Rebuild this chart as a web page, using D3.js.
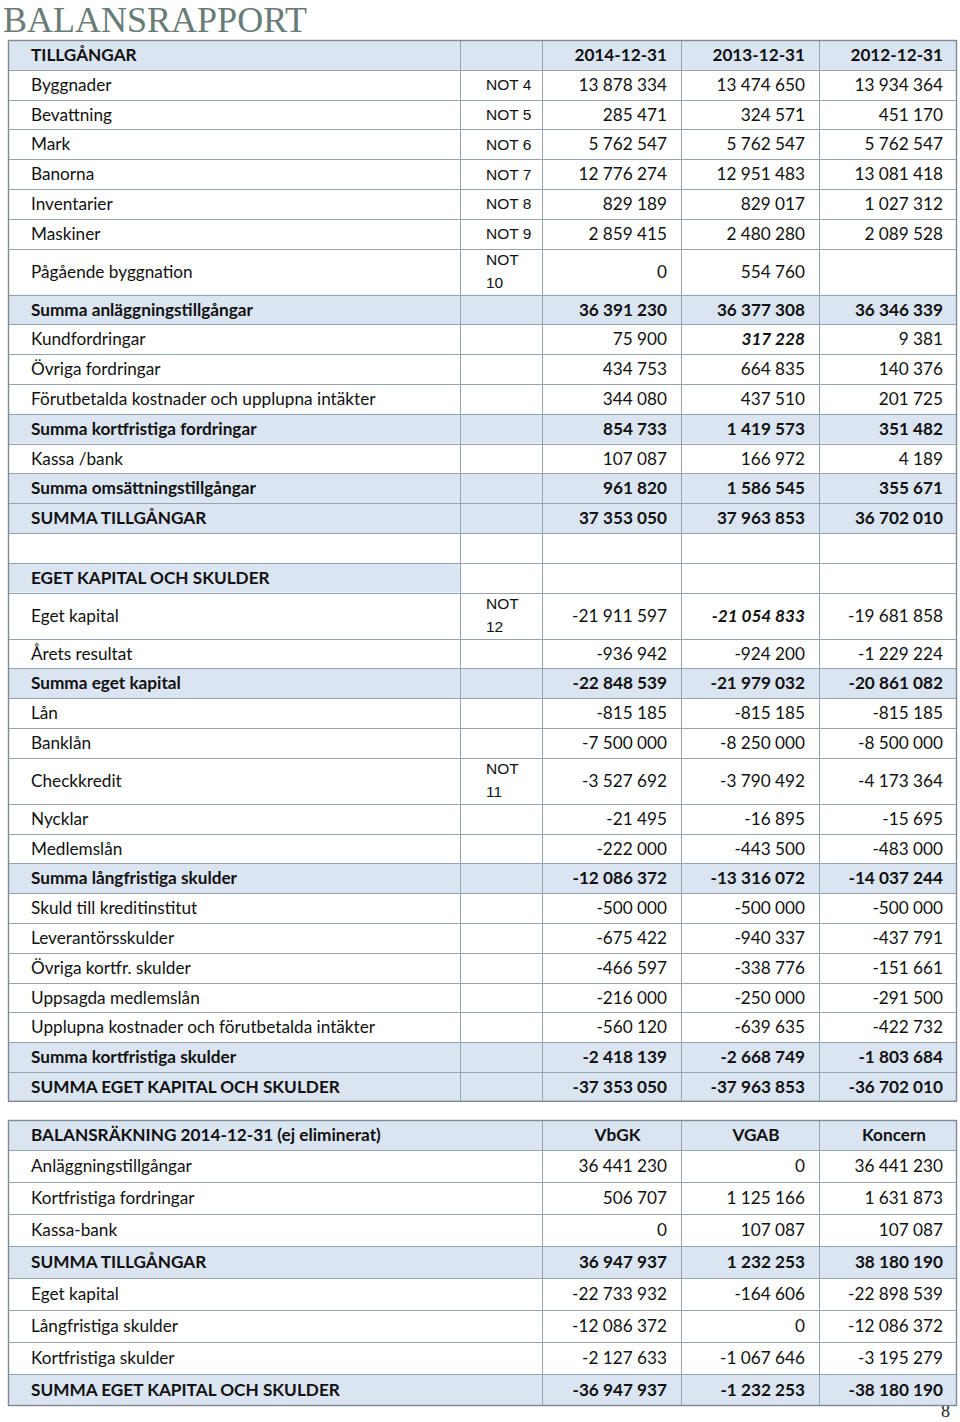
<!DOCTYPE html>
<html><head><meta charset="utf-8">
<script src="https://cdn.jsdelivr.net/npm/d3@7"></script>
<style>
html,body{margin:0;padding:0;background:#fff;}
svg{display:block;}
</style></head>
<body>
<script>
// ---------- DATA ----------
const title = "BALANSRAPPORT";
const pageNumber = "8";

const header1 = ["TILLGÅNGAR", "", "2014-12-31", "2013-12-31", "2012-12-31"];
const labels1 = ["Byggnader","Bevattning","Mark","Banorna","Inventarier","Maskiner","Pågående byggnation","Summa anläggningstillgångar","Kundfordringar","Övriga fordringar","Förutbetalda kostnader och upplupna intäkter","Summa kortfristiga fordringar","Kassa /bank","Summa omsättningstillgångar","SUMMA TILLGÅNGAR","","EGET KAPITAL OCH SKULDER","Eget kapital","Årets resultat","Summa eget kapital","Lån","Banklån","Checkkredit","Nycklar","Medlemslån","Summa långfristiga skulder","Skuld till kreditinstitut","Leverantörsskulder","Övriga kortfr. skulder","Uppsagda medlemslån","Upplupna kostnader och förutbetalda intäkter","Summa kortfristiga skulder","SUMMA EGET KAPITAL OCH SKULDER"];
const notes1 = ["NOT 4","NOT 5","NOT 6","NOT 7","NOT 8","NOT 9","NOT 10","","","","","","","","","","","NOT 12","","","","","NOT 11","","","","","","","","","",""];
const values2014 = [13878334,285471,5762547,12776274,829189,2859415,0,36391230,75900,434753,344080,854733,107087,961820,37353050,null,null,-21911597,-936942,-22848539,-815185,-7500000,-3527692,-21495,-222000,-12086372,-500000,-675422,-466597,-216000,-560120,-2418139,-37353050];
const values2013 = [13474650,324571,5762547,12951483,829017,2480280,554760,36377308,317228,664835,437510,1419573,166972,1586545,37963853,null,null,-21054833,-924200,-21979032,-815185,-8250000,-3790492,-16895,-443500,-13316072,-500000,-940337,-338776,-250000,-639635,-2668749,-37963853];
const values2012 = [13934364,451170,5762547,13081418,1027312,2089528,null,36346339,9381,140376,201725,351482,4189,355671,36702010,null,null,-19681858,-1229224,-20861082,-815185,-8500000,-4173364,-15695,-483000,-14037244,-500000,-437791,-151661,-291500,-422732,-1803684,-36702010];
const sectionHeads1 = ["EGET KAPITAL OCH SKULDER"];
const emphasized1 = [["Kundfordringar", 1], ["Eget kapital", 1]]; // [label, value column] shown bold italic

const header2 = ["BALANSRÄKNING 2014-12-31 (ej eliminerat)", "VbGK", "VGAB", "Koncern"];
const labels2 = ["Anläggningstillgångar","Kortfristiga fordringar","Kassa-bank","SUMMA TILLGÅNGAR","Eget kapital","Långfristiga skulder","Kortfristiga skulder","SUMMA EGET KAPITAL OCH SKULDER"];
const valuesVbGK = [36441230,506707,0,36947937,-22733932,-12086372,-2127633,-36947937];
const valuesVGAB = [0,1125166,107087,1232253,-164606,0,-1067646,-1232253];
const valuesKoncern = [36441230,1631873,107087,38180190,-22898539,-12086372,-3195279,-38180190];

// ---------- LAYOUT / STYLE ----------
const W = 960, H = 1422;
const FONT = "Lato, 'Open Sans', sans-serif";
const NOTEFONT = "'Liberation Sans', Arial, sans-serif";
const FS = 17.2;
const SHADE = "#dbe5f1";
const GRID = "#95a4b3";
const OUTER = "#7d8b99";
const colEdges = [8, 460, 542, 681, 819, 957];
const rowH = 29.8, tallH = 46;
const top1 = 40, top2 = 1120, rowH2 = 32, headH2 = 30;

const loc = d3.formatLocale({decimal: ",", thousands: " ", grouping: [3], currency: ["", ""], minus: "-"});
const fmt = v => v == null ? "" : loc.format(",d")(v);

const svg = d3.select("body").append("svg").attr("width", W).attr("height", H)
  .attr("font-family", FONT);

svg.append("text").attr("x", 3).attr("y", 32)
  .attr("font-family", "'Liberation Serif', 'DejaVu Serif', serif")
  .attr("font-size", 35.5).attr("fill", "#687c77")
  .attr("textLength", 304).attr("lengthAdjust", "spacingAndGlyphs")
  .text(title);

svg.append("text").attr("x", 950).attr("y", 1417).attr("text-anchor", "end")
  .attr("font-family", "'Liberation Serif', serif").attr("font-size", 18).attr("fill", "#222")
  .text(pageNumber);

// ---------- TABLE 1 ----------
const rows1 = [{label: header1[0], note: "", vals: header1.slice(2), kind: "header"}]
  .concat(labels1.map((l, i) => ({
    label: l, note: notes1[i],
    vals: [values2014[i], values2013[i], values2012[i]].map(fmt),
    kind: sectionHeads1.includes(l) ? "section" : (/^summa/i.test(l) ? "sum" : "normal"),
    tall: notes1[i].length > 5
  })));
let y = top1;
rows1.forEach(r => { r.y = y; r.h = r.tall ? tallH : rowH; y += r.h; });
const bottom1 = y;

const g1 = svg.append("g");
const wCell = i => colEdges[i+1] - colEdges[i];

// shading
rows1.forEach(r => {
  if (r.kind === "header" || r.kind === "sum") {
    g1.append("rect").attr("x", colEdges[0]).attr("y", r.y).attr("width", colEdges[5]-colEdges[0]).attr("height", r.h).attr("fill", SHADE);
  } else if (r.kind === "section") {
    g1.append("rect").attr("x", colEdges[0]).attr("y", r.y).attr("width", wCell(0)).attr("height", r.h).attr("fill", SHADE);
  }
});
// grid
rows1.slice(1).forEach(r => {
  g1.append("line").attr("x1", colEdges[0]).attr("x2", colEdges[5]).attr("y1", Math.round(r.y)+0.5).attr("y2", Math.round(r.y)+0.5).attr("stroke", GRID);
});
colEdges.slice(1,5).forEach(x => {
  g1.append("line").attr("x1", x+0.5).attr("x2", x+0.5).attr("y1", top1).attr("y2", bottom1).attr("stroke", GRID);
});
g1.append("rect").attr("x", colEdges[0]+0.5).attr("y", top1+0.5).attr("width", colEdges[5]-colEdges[0]-1).attr("height", bottom1-top1-1)
  .attr("fill", "none").attr("stroke", OUTER).attr("stroke-width", 1.4);

// text
rows1.forEach(r => {
  const cy = r.y + r.h/2;
  const bold = r.kind !== "normal";
  g1.append("text").attr("x", 31).attr("y", cy).attr("dy", "0.36em")
    .attr("font-size", FS).attr("font-weight", bold ? "bold" : "normal").attr("fill", "#111")
    .text(r.label);
  if (r.note) {
    const parts = r.tall ? r.note.split(" ") : [r.note];
    parts.forEach((p, k) => {
      g1.append("text").attr("x", 486)
        .attr("y", r.tall ? r.y + 11 + k*23 : cy).attr("dy", "0.36em")
        .attr("font-family", NOTEFONT).attr("font-size", 15.5).attr("fill", "#111").text(p);
    });
  }
  r.vals.forEach((v, j) => {
    const em = emphasized1.some(e => e[0] === r.label && e[1] === j);
    g1.append("text").attr("x", colEdges[j+3] - 14).attr("y", cy).attr("dy", "0.36em")
      .attr("text-anchor", "end").attr("font-size", FS)
      .attr("font-weight", (bold || em) ? "bold" : "normal")
      .attr("font-style", em ? "italic" : "normal").attr("fill", "#111")
      .text(v);
  });
});

// ---------- TABLE 2 ----------
const cols2 = [colEdges[0], colEdges[2], colEdges[3], colEdges[4], colEdges[5]];
const rows2 = [{label: header2[0], vals: header2.slice(1), kind: "header"}]
  .concat(labels2.map((l, i) => ({
    label: l, vals: [valuesVbGK[i], valuesVGAB[i], valuesKoncern[i]].map(fmt),
    kind: /^SUMMA/.test(l) ? "sum" : "normal"
  })));
y = top2;
rows2.forEach((r, i) => { r.y = y; r.h = i === 0 ? headH2 : rowH2; y += r.h; });
const bottom2 = y;
const g2 = svg.append("g");
rows2.forEach(r => {
  if (r.kind !== "normal")
    g2.append("rect").attr("x", cols2[0]).attr("y", r.y).attr("width", cols2[4]-cols2[0]).attr("height", r.h).attr("fill", SHADE);
});
rows2.slice(1).forEach(r => {
  g2.append("line").attr("x1", cols2[0]).attr("x2", cols2[4]).attr("y1", Math.round(r.y)+0.5).attr("y2", Math.round(r.y)+0.5).attr("stroke", GRID);
});
cols2.slice(1,4).forEach(x => {
  g2.append("line").attr("x1", x+0.5).attr("x2", x+0.5).attr("y1", top2).attr("y2", bottom2).attr("stroke", GRID);
});
g2.append("rect").attr("x", cols2[0]+0.5).attr("y", top2+0.5).attr("width", cols2[4]-cols2[0]-1).attr("height", bottom2-top2-1)
  .attr("fill", "none").attr("stroke", OUTER).attr("stroke-width", 1.4);
rows2.forEach(r => {
  const cy = r.y + r.h/2;
  const bold = r.kind !== "normal";
  g2.append("text").attr("x", 31).attr("y", cy).attr("dy", "0.36em")
    .attr("font-size", FS).attr("font-weight", bold ? "bold" : "normal").attr("fill", "#111").text(r.label);
  r.vals.forEach((v, j) => {
    const isHead = r.kind === "header";
    g2.append("text")
      .attr("x", isHead ? (cols2[j+1] + cols2[j+2]) / 2 + 6 : cols2[j+2] - 14)
      .attr("y", cy).attr("dy", "0.36em")
      .attr("text-anchor", isHead ? "middle" : "end").attr("font-size", FS)
      .attr("font-weight", bold ? "bold" : "normal").attr("fill", "#111").text(v);
  });
});
</script>
</body></html>
